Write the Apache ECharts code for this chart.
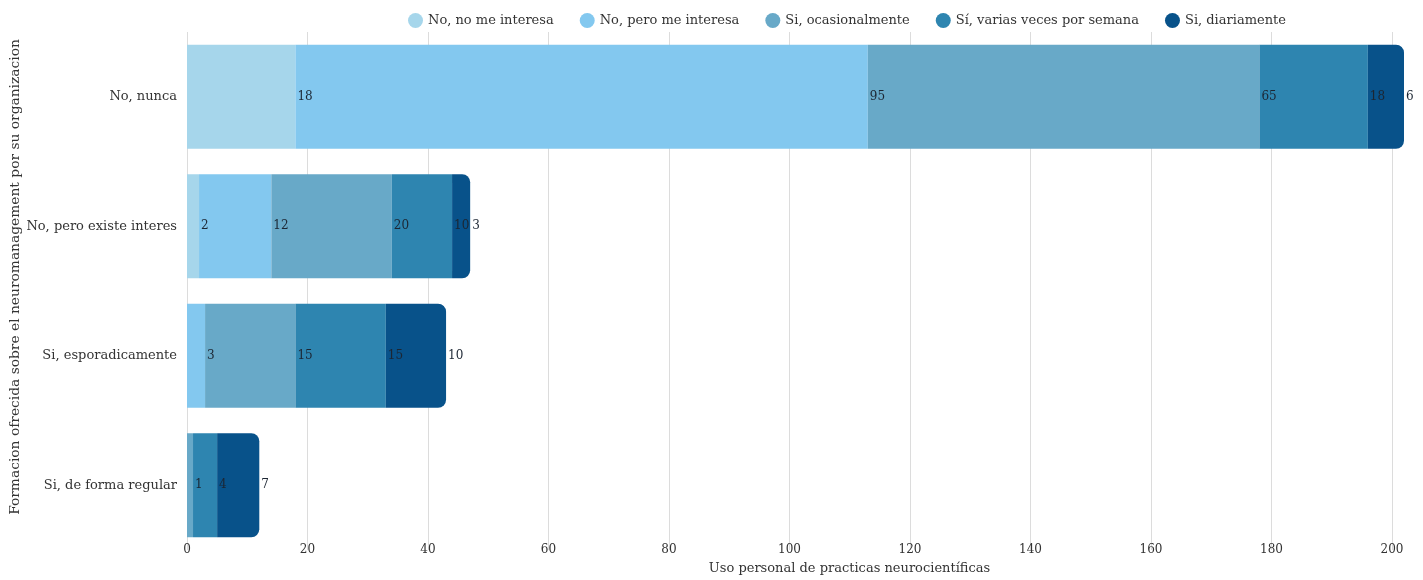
<!DOCTYPE html>
<html>
<head>
<meta charset="utf-8">
<script src="https://cdn.jsdelivr.net/npm/echarts@6/dist/echarts.min.js"></script>
<style>
  html, body { margin: 0; padding: 0; background: #ffffff; }
  #chart { width: 1423px; height: 580px; }
</style>
</head>
<body>
<div id="chart"></div>
<script>
// Categories (formación ofrecida) and the stacked answers for each one
const categories = ['No, nunca', 'No, pero existe interes', 'Si, esporadicamente', 'Si, de forma regular'];
const seriesNames = ['No, no me interesa', 'No, pero me interesa', 'Si, ocasionalmente', 'Sí, varias veces por semana', 'Si, diariamente'];
const noMeInteresa = [18, 2, 0, 0];
const peroMeInteresa = [95, 12, 3, 0];
const ocasionalmente = [65, 20, 15, 1];
const variasVeces = [18, 10, 15, 4];
const diariamente = [6, 3, 10, 7];
const xTicks = [0, 20, 40, 60, 80, 100, 120, 140, 160, 180, 200];

const values = [noMeInteresa, peroMeInteresa, ocasionalmente, variasVeces, diariamente];
const colors = ['#a6d6eb', '#83c8ef', '#68a9c8', '#2e85b0', '#08528a'];
const FONT = 'DejaVu Serif';

const chart = echarts.init(document.getElementById('chart'), null, { renderer: 'canvas' });

const series = seriesNames.map((name, i) => ({
  name: name,
  type: 'bar',
  stack: 'total',
  barWidth: 104,
  data: values[i],
  itemStyle: {
    color: colors[i],
    borderRadius: i === seriesNames.length - 1 ? [0, 8, 8, 0] : 0
  },
  label: {
    show: true,
    position: 'right',
    distance: 2,
    fontFamily: FONT,
    fontSize: 12,
    color: '#1c2633',
    formatter: p => (p.value > 0 ? String(p.value) : '')
  },
  emphasis: { disabled: true }
}));

chart.setOption({
  animation: false,
  textStyle: { fontFamily: FONT },
  legend: {
    left: 403,
    top: 8,
    icon: 'circle',
    itemWidth: 15,
    itemHeight: 15,
    itemGap: 26,
    textStyle: { fontFamily: FONT, fontSize: 13, color: '#333' },
    data: seriesNames
  },
  grid: {
    left: 187,
    right: 19,
    top: 32,
    height: 518,
    containLabel: false,
    outerBoundsMode: 'none'
  },
  xAxis: {
    type: 'value',
    min: 0,
    max: 202,
    interval: 20,
    name: 'Uso personal de practicas neurocientíficas',
    nameLocation: 'middle',
    nameGap: 12,
    nameMoveOverlap: false,
    nameTextStyle: { fontFamily: FONT, fontSize: 13, color: '#333', padding: [0, 0, 0, 108] },
    axisLine: { show: false },
    axisTick: { show: false },
    axisLabel: {
      margin: -6,
      fontFamily: FONT,
      fontSize: 12,
      color: '#333',
      showMaxLabel: false,
      formatter: v => (xTicks.indexOf(v) >= 0 ? String(v) : '')
    },
    splitLine: { show: true, showMaxLine: false, lineStyle: { color: '#dcdcdc', width: 1 } }
  },
  yAxis: {
    type: 'category',
    inverse: true,
    data: categories,
    name: 'Formacion ofrecida sobre el neuromanagement por su organizacion',
    nameLocation: 'middle',
    nameGap: 165,
    nameMoveOverlap: false,
    nameTextStyle: { fontFamily: FONT, fontSize: 13.8, color: '#333', padding: [0, 0, 0, 28] },
    axisLine: { show: false },
    axisTick: { show: false },
    axisLabel: { margin: 10, fontFamily: FONT, fontSize: 13, color: '#333' }
  },
  series: series
});
</script>
</body>
</html>
